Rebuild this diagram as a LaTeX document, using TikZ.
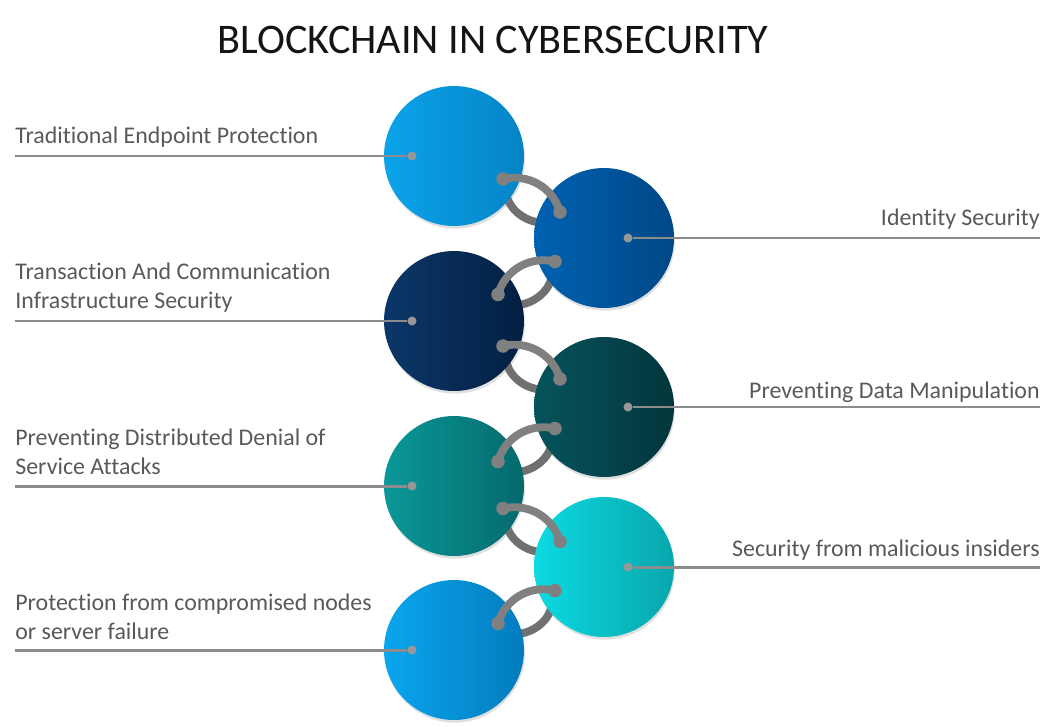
\documentclass[tikz,border=0pt]{standalone}
\usepackage{fontspec}
\setmainfont{Carlito}[Ligatures=NoCommon]
\usetikzlibrary{positioning,calc,backgrounds,shadows}
\definecolor{labelgray}{RGB}{89,89,89}
\definecolor{leadgray}{RGB}{140,140,140}
\definecolor{ringgray}{RGB}{112,112,112}
\definecolor{linkgray}{RGB}{128,128,128}
\definecolor{skyA}{RGB}{11,163,234}
\definecolor{skyB}{RGB}{5,132,198}
\definecolor{royalA}{RGB}{0,98,178}
\definecolor{royalB}{RGB}{0,72,134}
\definecolor{navyA}{RGB}{11,55,105}
\definecolor{navyB}{RGB}{3,31,66}
\definecolor{petrolA}{RGB}{6,84,92}
\definecolor{petrolB}{RGB}{3,53,60}
\definecolor{tealA}{RGB}{10,152,152}
\definecolor{tealB}{RGB}{5,105,109}
\definecolor{aquaA}{RGB}{12,218,226}
\definecolor{aquaB}{RGB}{8,166,172}
\definecolor{azureA}{RGB}{10,166,238}
\definecolor{azureB}{RGB}{3,124,190}
\tikzset{
  ball/.style 2 args={circle,minimum size=2.8cm,inner sep=0pt,left color=#1,right color=#2,drop shadow={opacity=0.25,shadow xshift=0.5pt,shadow yshift=-1.5pt}},
  heading/.style={font=\fontsize{24}{28}\selectfont,text=black!92,inner sep=0pt},
  lefttext/.style={anchor=south west,inner sep=0pt,text depth=0pt,align=left,font=\fontsize{13.6}{16.4}\selectfont,text=labelgray},
  righttext/.style={anchor=south east,inner sep=0pt,text depth=0pt,align=right,font=\fontsize{13.6}{16.4}\selectfont,text=labelgray},
  leader/.style={draw=leadgray,line width=1.7pt},
  leaddot/.style={circle,fill=leadgray!90,inner sep=0pt,minimum size=0.18cm},
  ringback/.style={draw=ringgray,line width=4.5pt},
  ringfront/.style={draw=linkgray,line width=4.5pt,line cap=round},
  ringend/.style={circle,fill=linkgray,inner sep=0pt,minimum size=0.27cm}
}
\begin{document}
\begin{tikzpicture}[x=0.02cm,y=-0.02cm]
  \useasboundingbox (0,0) rectangle (1055,727);
  \node[heading] (title) at (493,40) {BLOCKCHAIN IN CYBERSECURITY};

  \node[ball={skyA}{skyB}] (endpoint) at (454,156) {};
  \node[ball={royalA}{royalB}] (identity) at (604,238) {};
  \node[ball={navyA}{navyB}] (transact) at (454,321) {};
  \node[ball={petrolA}{petrolB}] (datamanip) at (604,407) {};
  \node[ball={tealA}{tealB}] (ddos) at (454,486) {};
  \node[ball={aquaA}{aquaB}] (insiders) at (604,567) {};
  \node[ball={azureA}{azureB}] (failure) at (454,650) {};

  \coordinate (m1) at ($(endpoint)!0.5!(identity)$);
  \coordinate (m2) at ($(identity)!0.5!(transact)$);
  \coordinate (m3) at ($(transact)!0.5!(datamanip)$);
  \coordinate (m4) at ($(datamanip)!0.5!(ddos)$);
  \coordinate (m5) at ($(ddos)!0.5!(insiders)$);
  \coordinate (m6) at ($(insiders)!0.5!(failure)$);
  \begin{scope}[on background layer]
    \coordinate (b1a) at ($(m1)+(-23,-7)$);
    \coordinate (b1b) at ($(m1)+(28,22)$);
    \coordinate (b2a) at ($(m2)+(23,-7)$);
    \coordinate (b2b) at ($(m2)+(-28,22)$);
    \coordinate (b3a) at ($(m3)+(-23,-7)$);
    \coordinate (b3b) at ($(m3)+(28,22)$);
    \coordinate (b4a) at ($(m4)+(23,-7)$);
    \coordinate (b4b) at ($(m4)+(-28,22)$);
    \coordinate (b5a) at ($(m5)+(-23,-7)$);
    \coordinate (b5b) at ($(m5)+(28,22)$);
    \coordinate (b6a) at ($(m6)+(23,-7)$);
    \coordinate (b6b) at ($(m6)+(-28,22)$);
    \draw[ringback] (b1a) to[out=-90,in=210] (b1b);
    \draw[ringback] (b2a) to[out=-90,in=-30] (b2b);
    \draw[ringback] (b3a) to[out=-90,in=210] (b3b);
    \draw[ringback] (b4a) to[out=-90,in=-30] (b4b);
    \draw[ringback] (b5a) to[out=-90,in=210] (b5b);
    \draw[ringback] (b6a) to[out=-90,in=-30] (b6b);
  \end{scope}

  \node[ringend] (l1a) at ($(m1)+(-26,-18)$) {};
  \node[ringend] (l1b) at ($(m1)+(31,15)$) {};
  \node[ringend] (l2a) at ($(m2)+(26,-18)$) {};
  \node[ringend] (l2b) at ($(m2)+(-31,15)$) {};
  \node[ringend] (l3a) at ($(m3)+(-26,-18)$) {};
  \node[ringend] (l3b) at ($(m3)+(31,15)$) {};
  \node[ringend] (l4a) at ($(m4)+(26,-18)$) {};
  \node[ringend] (l4b) at ($(m4)+(-31,15)$) {};
  \node[ringend] (l5a) at ($(m5)+(-26,-18)$) {};
  \node[ringend] (l5b) at ($(m5)+(31,15)$) {};
  \node[ringend] (l6a) at ($(m6)+(26,-18)$) {};
  \node[ringend] (l6b) at ($(m6)+(-31,15)$) {};
  \draw[ringfront] (l1a.center) to[out=13,in=106] (l1b.center);
  \draw[ringfront] (l2a.center) to[out=167,in=74] (l2b.center);
  \draw[ringfront] (l3a.center) to[out=13,in=106] (l3b.center);
  \draw[ringfront] (l4a.center) to[out=167,in=74] (l4b.center);
  \draw[ringfront] (l5a.center) to[out=13,in=106] (l5b.center);
  \draw[ringfront] (l6a.center) to[out=167,in=74] (l6b.center);

  \node[leaddot] (endpoint-dot) at ($(endpoint)+(-42,0)$) {};
  \node[leaddot] (identity-dot) at ($(identity)+(24,0)$) {};
  \node[leaddot] (transact-dot) at ($(transact)+(-42,0)$) {};
  \node[leaddot] (datamanip-dot) at ($(datamanip)+(24,0)$) {};
  \node[leaddot] (ddos-dot) at ($(ddos)+(-42,0)$) {};
  \node[leaddot] (insiders-dot) at ($(insiders)+(24,0)$) {};
  \node[leaddot] (failure-dot) at ($(failure)+(-42,0)$) {};

  \node[lefttext] (endpoint-lbl) at (15,144) {Traditional Endpoint Protection};
  \node[righttext] (identity-lbl) at (1040,226) {Identity Security};
  \node[lefttext] (transact-lbl) at (15,309) {Transaction And Communication\\Infrastructure Security};
  \node[righttext] (datamanip-lbl) at (1040,399) {Preventing Data Manipulation};
  \node[lefttext] (ddos-lbl) at (15,475) {Preventing Distributed Denial of\\Service Attacks};
  \node[righttext] (insiders-lbl) at (1040,557) {Security from malicious insiders};
  \node[lefttext] (failure-lbl) at (15,640) {Protection from compromised nodes\\or server failure};

  \draw[leader] (endpoint-lbl.south west |- endpoint-dot) -- (endpoint-dot);
  \draw[leader] (identity-lbl.south east |- identity-dot) -- (identity-dot);
  \draw[leader] (transact-lbl.south west |- transact-dot) -- (transact-dot);
  \draw[leader] (datamanip-lbl.south east |- datamanip-dot) -- (datamanip-dot);
  \draw[leader] (ddos-lbl.south west |- ddos-dot) -- (ddos-dot);
  \draw[leader] (insiders-lbl.south east |- insiders-dot) -- (insiders-dot);
  \draw[leader] (failure-lbl.south west |- failure-dot) -- (failure-dot);
\end{tikzpicture}
\end{document}
